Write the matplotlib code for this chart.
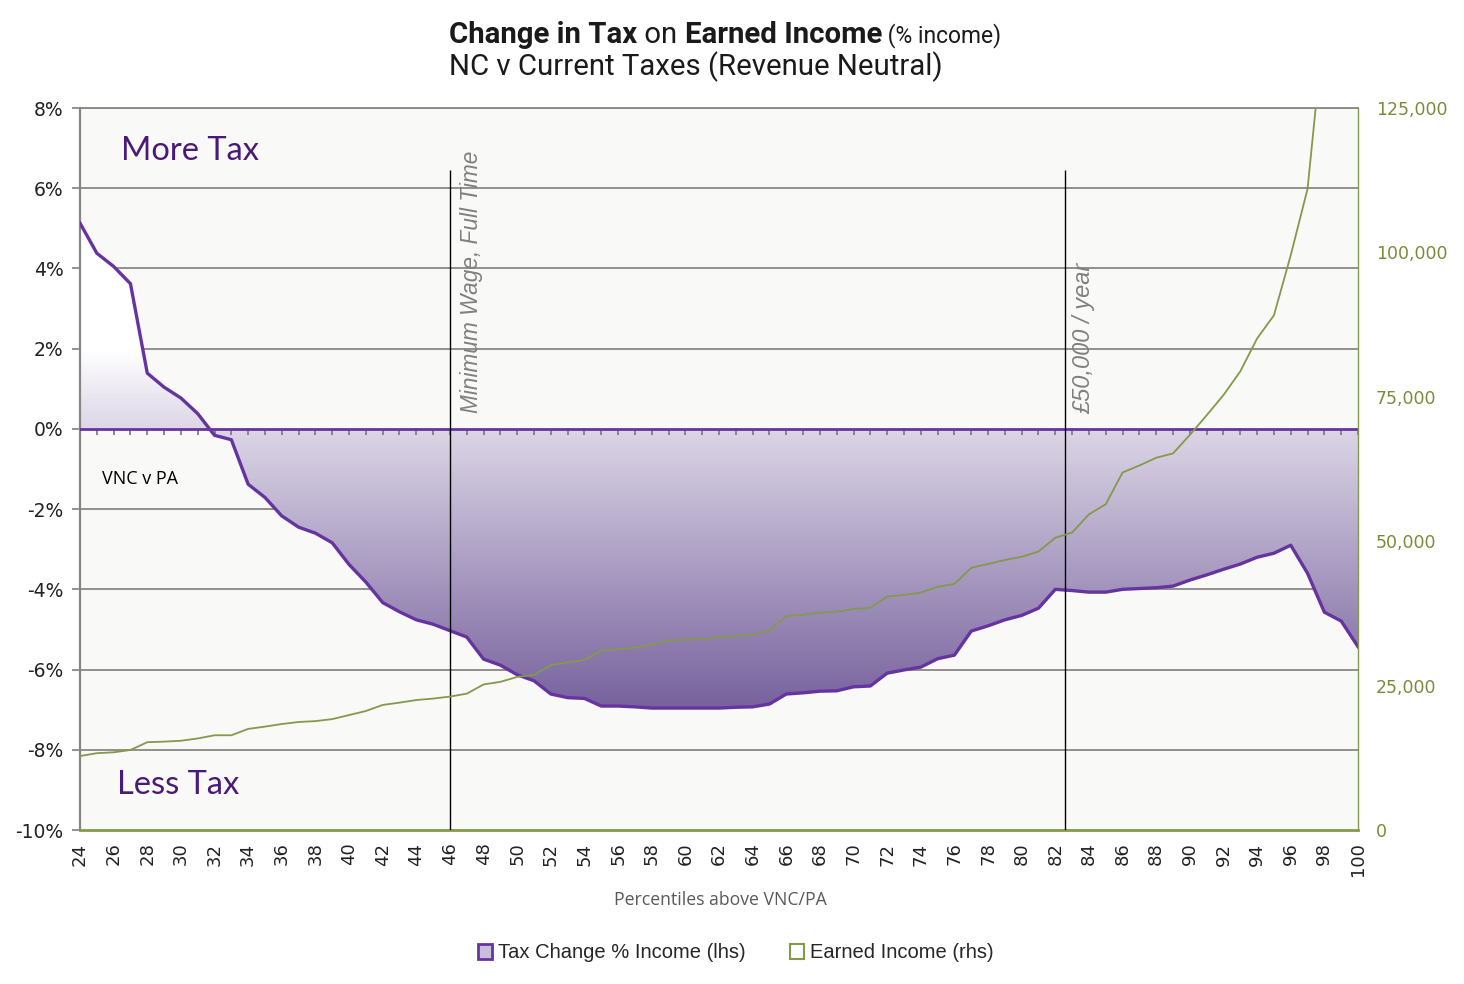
import matplotlib
matplotlib.use("Agg")
import matplotlib.pyplot as plt
import numpy as np
from matplotlib.path import Path
from matplotlib.colors import LinearSegmentedColormap
from matplotlib.patches import Patch
from matplotlib.ticker import FuncFormatter

# ---------------- data ----------------
percentiles = list(range(24, 101))
tax_change_pct = [
    5.13, 4.38, 4.05, 3.62, 1.39, 1.04, 0.77, 0.38, -0.16, -0.27,
    -1.38, -1.71, -2.17, -2.45, -2.60, -2.84, -3.38, -3.82, -4.33, -4.56,
    -4.76, -4.87, -5.03, -5.19, -5.74, -5.89, -6.13, -6.28, -6.61, -6.70,
    -6.72, -6.91, -6.91, -6.93, -6.96, -6.96, -6.96, -6.96, -6.96, -6.94,
    -6.93, -6.86, -6.61, -6.58, -6.54, -6.53, -6.43, -6.41, -6.09, -6.01,
    -5.94, -5.73, -5.64, -5.04, -4.91, -4.76, -4.65, -4.47, -4.00, -4.03,
    -4.07, -4.07, -4.00, -3.98, -3.96, -3.92, -3.77, -3.64, -3.50, -3.37,
    -3.20, -3.10, -2.90, -3.60, -4.57, -4.79, -5.43,
]
earned_income = [
    12800, 13300, 13450, 13850, 15200, 15300, 15450, 15850, 16400, 16400,
    17500, 17900, 18350, 18700, 18850, 19200, 19900, 20600, 21650, 22050,
    22500, 22750, 23100, 23600, 25200, 25650, 26500, 26850, 28550, 29000,
    29450, 31050, 31300, 31550, 32100, 32800, 32950, 33100, 33350, 33600,
    33800, 34500, 37050, 37250, 37600, 37800, 38250, 38450, 40400, 40700,
    41100, 42100, 42600, 45400, 46050, 46750, 47300, 48200, 50600, 51500,
    54650, 56400, 61900, 63100, 64450, 65200, 68400, 71800, 75300, 79400,
    85100, 89100, 99500, 111000, 140000, 170000, 250000,
]
xtick_labels = list(range(24, 101, 2))
left_ticks = [-10, -8, -6, -4, -2, 0, 2, 4, 6, 8]
right_ticks = [0, 25000, 50000, 75000, 100000, 125000]
min_wage_pct = 46.0
fifty_k_pct = 82.55
title_bold_1 = "Change in Tax"
title_reg_1 = " on "
title_bold_2 = "Earned Income"
title_small = " (% income)"
title_line2 = "NC v Current Taxes (Revenue Neutral)"

# ---------------- style ----------------
PURPLE = "#6634a0"
DARK_PURPLE = "#4a1a78"
OLIVE = "#84994a"
OLIVE_TXT = "#7a8c3a"
GRID = "#8a8884"
PLOT_BG = "#f9f9f7"

fig = plt.figure(figsize=(14.64, 9.84), dpi=100)
fig.patch.set_facecolor("white")
ax = fig.add_axes([80 / 1464, 1 - 830 / 984, 1278 / 1464, 722 / 984])
ax.set_facecolor(PLOT_BG)

x = np.array(percentiles, dtype=float)
y = np.array(tax_change_pct)

ax.set_xlim(24, 100)
ax.set_ylim(-10, 8)

# gridlines
for t in left_ticks:
    if t in (0, -10):
        continue
    ax.axhline(t, color=GRID, lw=1.3, zorder=1)

# gradient fill between curve and zero
cmap = LinearSegmentedColormap.from_list(
    "grad", [(0.0, "#6f5997"), (3.0 / 18, "#77629d"), (10.0 / 18, "#dcd6e6"),
             (12.0 / 18, "#ffffff"), (1.0, "#ffffff")])
grad = np.linspace(-10, 8, 400).reshape(-1, 1)
im = ax.imshow((grad + 10) / 18, extent=[24, 100, -10, 8], origin="lower",
               aspect="auto", cmap=cmap, vmin=0, vmax=1, interpolation="bilinear",
               zorder=2)
verts = list(zip(x, y)) + [(x[-1], 0.0), (x[0], 0.0), (x[0], y[0])]
codes = [Path.MOVETO] + [Path.LINETO] * (len(verts) - 2) + [Path.CLOSEPOLY]
clip = Path(verts, codes)
im.set_clip_path(clip, transform=ax.transData)

# zero line with category ticks
ax.vlines(x, -0.15, 0, color="#7f7f7f", lw=1.3, zorder=3)
ax.axhline(0, color=PURPLE, lw=2.0, zorder=4)

# tax line
ax.plot(x, y, color=PURPLE, lw=2.4, zorder=5, solid_joinstyle="round")

# annotation lines
ax.vlines([min_wage_pct, fifty_k_pct], -10, 6.45, color="black", lw=1.0, zorder=6)
ax.text(min_wage_pct + 1.3, 0.4, "Minimum Wage, Full Time", rotation=90,
        ha="center", va="bottom", style="italic", color="#808080",
        fontsize=16.3, family="Liberation Sans", zorder=7)
ax.text(fifty_k_pct + 1.15, 0.37, "\u00a350,000 / year", rotation=90,
        ha="center", va="bottom", style="italic", color="#808080",
        fontsize=17.0, family="Liberation Sans", zorder=7)

ax.text(26.44, 6.93, "More Tax", color=DARK_PURPLE, fontsize=23.5, family="Lato",
        ha="left", va="center", zorder=7)
ax.text(26.2, -8.88, "Less Tax", color=DARK_PURPLE, fontsize=23.5, family="Lato",
        ha="left", va="center", zorder=7)
ax.text(25.3, -1.25, "VNC v PA", color="black", fontsize=13, family="Open Sans",
        ha="left", va="center", zorder=7)

# axes styling
ax.set_yticks(left_ticks)
ax.yaxis.set_major_formatter(FuncFormatter(lambda v, p: f"{int(v)}%"))
ax.tick_params(axis="y", direction="out", length=6, width=1.2, color="#7f7f7f",
               labelsize=13.5, labelcolor="#222222", pad=6)
ax.set_xticks(xtick_labels)
ax.set_xticklabels([str(v) for v in xtick_labels], rotation=90)
ax.tick_params(axis="x", length=0, labelsize=13, labelcolor="#222222", pad=9)
for lab in ax.get_xticklabels() + ax.get_yticklabels():
    lab.set_family("DejaVu Sans")

ax.spines["left"].set_color("#858585")
ax.spines["left"].set_linewidth(1.6)
ax.spines["top"].set_color(GRID)
ax.spines["top"].set_linewidth(1.3)
ax.spines["bottom"].set_color(OLIVE)
ax.spines["bottom"].set_linewidth(2.0)
ax.spines["right"].set_visible(False)

# secondary axis
ax2 = ax.twinx()
ax2.plot(x, earned_income, color=OLIVE, lw=1.3, zorder=5)
ax2.set_ylim(0, 125000)
ax2.set_xlim(24, 100)
ax2.set_yticks(right_ticks)
ax2.yaxis.set_major_formatter(FuncFormatter(lambda v, p: f"{int(v):,}"))
ax2.tick_params(axis="y", length=0, labelsize=12.5, labelcolor=OLIVE_TXT, pad=13)
for lab in ax2.get_yticklabels():
    lab.set_family("DejaVu Sans")
ax2.spines["right"].set_color(OLIVE)
ax2.spines["right"].set_linewidth(1.0)
ax2.spines["left"].set_visible(False)
ax2.spines["top"].set_visible(False)
ax2.spines["bottom"].set_visible(False)

# x axis label
fig.text(720 / 1464, 1 - 900 / 984, "Percentiles above VNC/PA", ha="center", va="center",
         fontsize=12.7, color="#595959", family="Open Sans")

# title
FS = 21.2
tx, ty = 449 / 1464, 1 - 43 / 984
t1 = fig.text(tx, ty, title_bold_1, fontsize=FS, weight="bold", family="Roboto",
              color="#1a1a1a", ha="left", va="baseline")
a1 = ax.annotate(title_reg_1, xy=(1, 0), xycoords=t1, fontsize=FS, family="Roboto",
                 color="#1a1a1a", va="bottom", ha="left", annotation_clip=False)
a2 = ax.annotate(title_bold_2, xy=(1, 0), xycoords=a1, fontsize=FS, weight="bold",
                 family="Roboto", color="#1a1a1a", va="bottom", ha="left", annotation_clip=False)
a3 = ax.annotate(title_small, xy=(1, 0), xycoords=a2, xytext=(0, 1), textcoords="offset points",
                 fontsize=16.5, family="Roboto", color="#1a1a1a", va="bottom", ha="left",
                 annotation_clip=False)
fig.text(tx, 1 - 75 / 984, title_line2, fontsize=FS, family="Roboto", color="#1a1a1a",
         ha="left", va="baseline")

# legend
handles = [Patch(facecolor="#c9bfdc", edgecolor=PURPLE, linewidth=2.0),
           Patch(facecolor="white", edgecolor=OLIVE, linewidth=1.5)]
labels = ["Tax Change % Income (lhs)", "Earned Income (rhs)"]
leg = fig.legend(handles, labels, loc="center", bbox_to_anchor=(736 / 1464, 1 - 953 / 984),
                 ncol=2, frameon=False, handlelength=0.7, handleheight=0.7,
                 handletextpad=0.3, columnspacing=2.2,
                 prop={"family": ["Liberation Sans Narrow", "Liberation Sans"], "size": 14.5})
for t in leg.get_texts():
    t.set_color("#262626")

fig.savefig("out.png", dpi=100, facecolor="white")
